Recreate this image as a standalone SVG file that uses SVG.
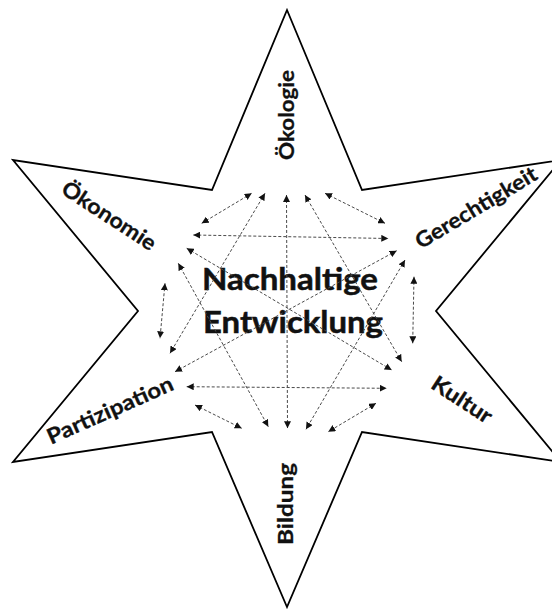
<svg xmlns="http://www.w3.org/2000/svg" width="552" height="611" viewBox="0 0 552 611">
<style>
  .star { fill: #ffffff; stroke: #000000; stroke-width: 1.8; stroke-linejoin: miter; }
  .lbl { font-family: Lato, "Liberation Sans", sans-serif; font-weight: bold; font-size: 21.5px; fill: #111111; stroke: #111111; stroke-width: 0.3; text-anchor: middle; }
  .title { font-family: Lato, "Liberation Sans", sans-serif; font-weight: bold; font-size: 31px; fill: #111111; stroke: #111111; stroke-width: 0.5; }
  .conn line { stroke: #4a4a4a; stroke-width: 1; stroke-dasharray: 3 2; fill: none; marker-start: url(#ah); marker-end: url(#ah); }
</style>
<defs>
  <marker id="ah" markerUnits="userSpaceOnUse" markerWidth="8" markerHeight="7" refX="7" refY="3.5" orient="auto-start-reverse">
    <path d="M0,0 L7,3.5 L0,7 z" fill="#111111"/>
  </marker>
</defs>
<rect width="552" height="611" fill="#ffffff"/>
<g id="star">
  <polygon class="star" points="287,10 362,190 561,160 436,311 561,462 362,432 287,607 212,432 13,462 138,311 13,160 212,190"/>
</g>
<g id="center">
  <text class="title" x="202" y="290" textLength="176" lengthAdjust="spacingAndGlyphs">Nachhaltige</text>
  <text class="title" x="203" y="333" textLength="180" lengthAdjust="spacingAndGlyphs">Entwicklung</text>
</g>
<g id="oekologie">
  <text class="lbl" transform="translate(294,115) rotate(-90)" textLength="90" lengthAdjust="spacingAndGlyphs">Ökologie</text>
</g>
<g id="gerechtigkeit">
  <text class="lbl" transform="translate(480,214) rotate(-31)" textLength="138" lengthAdjust="spacingAndGlyphs">Gerechtigkeit</text>
</g>
<g id="kultur">
  <text class="lbl" transform="translate(458,406) rotate(33)" textLength="68" lengthAdjust="spacingAndGlyphs">Kultur</text>
</g>
<g id="bildung">
  <text class="lbl" transform="translate(293,504) rotate(-90)" textLength="82" lengthAdjust="spacingAndGlyphs">Bildung</text>
</g>
<g id="partizipation">
  <text class="lbl" transform="translate(113,417) rotate(-24)" textLength="136" lengthAdjust="spacingAndGlyphs">Partizipation</text>
</g>
<g id="oekonomie">
  <text class="lbl" transform="translate(105,222) rotate(33)" textLength="108" lengthAdjust="spacingAndGlyphs">Ökonomie</text>
</g>
<g id="connectors" class="conn">
  <line x1="201.7" y1="223.3" x2="251.7" y2="193.3"/>
  <line x1="325" y1="193.3" x2="385" y2="223.3"/>
  <line x1="193.3" y1="235" x2="388.3" y2="238.5"/>
  <line x1="286.5" y1="195" x2="287.5" y2="428.3"/>
  <line x1="165" y1="283.3" x2="160" y2="338.3"/>
  <line x1="414" y1="276.7" x2="412.7" y2="343.3"/>
  <line x1="195" y1="405" x2="241.7" y2="428.3"/>
  <line x1="376" y1="403.3" x2="328.3" y2="431.7"/>
  <line x1="186.7" y1="386.7" x2="386.7" y2="388.3"/>
  <line x1="265" y1="193.3" x2="170" y2="353.3"/>
  <line x1="305" y1="195" x2="401.7" y2="361.7"/>
  <line x1="178.3" y1="263.3" x2="268.3" y2="426.7"/>
  <line x1="405" y1="260" x2="306" y2="429.3"/>
  <line x1="186.7" y1="248.3" x2="391.7" y2="370"/>
  <line x1="396.7" y1="250.7" x2="175" y2="371.7"/>
</g>
</svg>
